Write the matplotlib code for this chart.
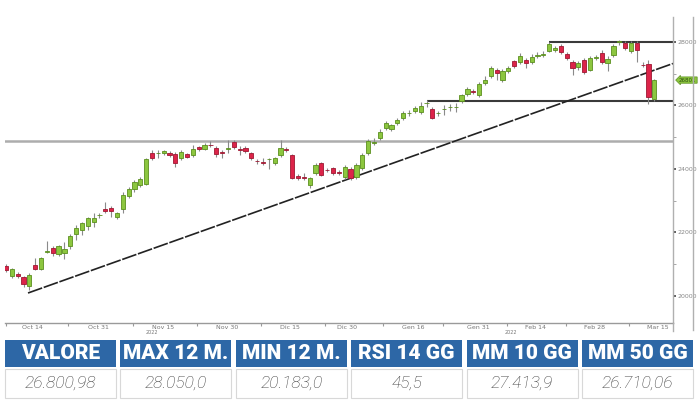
import matplotlib
matplotlib.use('Agg')
import matplotlib.pyplot as plt
import numpy as np
from matplotlib.lines import Line2D
from matplotlib.patches import Rectangle
import matplotlib.transforms as mtransforms

# ---------------- data ----------------
opens = [20944, 20629, 20692, 20597, 20314, 20976, 20850, 21385, 21511, 21322,
         21353, 21574, 21952, 22078, 22204, 22330, 22535, 22739, 22771, 22487,
         22739, 23149, 23369, 23495, 23527, 24503, 24488, 24503, 24503, 24472,
         24346, 24472, 24440, 24692, 24629, 24755, 24661, 24535, 24645, 24850,
         24629, 24661, 24503, 24251, 24220, 24299, 24188, 24440, 24629, 24440,
         23779, 23747, 23495, 23873, 24188, 23968, 24031, 23905, 23747, 23999,
         23747, 24031, 24503, 24834, 24976, 25291, 25259, 25448, 25606, 25748,
         25826, 25795, 26063, 25889, 25748, 25874, 25937, 25937, 26141, 26362,
         26456, 26330, 26708, 26929, 27118, 26803, 27086, 27401, 27370, 27433,
         27370, 27575, 27606, 27716, 27748, 27874, 27622, 27370, 27212, 27433,
         27118, 27512, 27653, 27338, 27590, 28015, 27968, 27716, 27968, 27291,
         27307, 26204]
closes = [20818, 20850, 20629, 20377, 20660, 20850, 21196, 21416, 21353, 21574,
          21479, 21889, 22141, 22298, 22456, 22456, 22550, 22676, 22676, 22613,
          23181, 23369, 23590, 23684, 24314, 24346, 24503, 24566, 24440, 24188,
          24535, 24377, 24629, 24629, 24755, 24740, 24472, 24503, 24661, 24692,
          24613, 24566, 24346, 24236, 24204, 24314, 24346, 24661, 24598, 23716,
          23716, 23716, 23716, 24125, 23810, 23953, 23873, 23873, 24062, 23716,
          24125, 24440, 24881, 24850, 25165, 25448, 25385, 25543, 25763, 25763,
          25921, 25984, 26078, 25606, 25763, 25889, 25952, 25952, 26330, 26519,
          26425, 26677, 26803, 27181, 27023, 27086, 27181, 27244, 27559, 27338,
          27527, 27590, 27622, 27937, 27811, 27685, 27496, 27181, 27338, 27055,
          27496, 27527, 27370, 27464, 27874, 28031, 27811, 27968, 27748, 27275,
          26267, 26801]
highs = [21007, 20881, 20755, 20629, 20723, 21196, 21227, 21731, 21574, 21605,
         21692, 21952, 22235, 22330, 22487, 22613, 22613, 22960, 22834, 22645,
         23275, 23432, 23653, 23747, 24346, 24598, 24598, 24598, 24566, 24535,
         24598, 24503, 24755, 24724, 24818, 24881, 24724, 24598, 24913, 24913,
         24724, 24724, 24535, 24314, 24346, 24346, 24377, 24913, 24692, 24472,
         23842, 23873, 23747, 24188, 24220, 24031, 24062, 23968, 24125, 24062,
         24188, 24503, 24944, 24976, 25259, 25511, 25417, 25606, 25826, 25858,
         25984, 26110, 26173, 25952, 25826, 26015, 26047, 26078, 26362, 26582,
         26519, 26740, 26929, 27244, 27181, 27149, 27244, 27433, 27653, 27496,
         27622, 27685, 27716, 28000, 27874, 27937, 27685, 27433, 27401, 27496,
         27559, 27590, 27748, 27559, 27937, 28050, 28031, 28031, 28031, 27370,
         27433, 26834]
lows = [20755, 20566, 20566, 20283, 20183, 20818, 20818, 21353, 21259, 21259,
        21164, 21479, 21763, 21920, 22078, 22172, 22456, 22613, 22487, 22424,
        22613, 23086, 23275, 23432, 23495, 24283, 24346, 24440, 24377, 24062,
        24283, 24346, 24377, 24566, 24598, 24692, 24377, 24346, 24503, 24629,
        24440, 24503, 24283, 24157, 24125, 23999, 24125, 24377, 24535, 23684,
        23653, 23653, 23401, 23810, 23779, 23905, 23810, 23810, 23684, 23653,
        23684, 23968, 24440, 24755, 24913, 25228, 25196, 25385, 25543, 25669,
        25763, 25732, 25952, 25574, 25669, 25700, 25826, 25795, 26078, 26299,
        26362, 26267, 26645, 26866, 26803, 26740, 27023, 27181, 27307, 27181,
        27307, 27496, 27527, 27685, 27685, 27622, 27433, 26960, 27118, 26992,
        27086, 27433, 27307, 27086, 27527, 27905, 27748, 27653, 27370, 27212,
        26047, 26141]

# reference levels
support_level = 24882       # long grey horizontal
top_level = 28000           # resistance line
mid_level = 26157           # support line
top_start, mid_start = 93, 72
trend_start = (3.77, 20093)
trend_end_price = 27323
last_price = 26801

x_labels = ["Oct 14", "Oct 31", "Nov 15", "Nov 30", "Dic 15", "Dic 30",
            "Gen 16", "Gen 31", "Feb 14", "Feb 28", "Mar 15"]
x_label_pos = [4.6, 15.8, 26.9, 37.8, 48.6, 58.4, 69.7, 80.8, 90.6, 100.7, 111.6]
x_tick_pos = [0, 10.6, 21.7, 32.7, 43.7, 54.6, 64.5, 74.8, 85.8, 95.9, 106.7]
y_major = [20000, 22000, 24000, 26000, 28000]
y_minor = [21000, 23000, 25000, 27000]

headers = ["VALORE", "MAX 12 M.", "MIN 12 M.", "RSI 14 GG", "MM 10 GG", "MM 50 GG"]
values = ["26.800,98", "28.050,0", "20.183,0", "45,5", "27.413,9", "26.710,06"]

# ---------------- figure ----------------
W, H = 700, 400
fig = plt.figure(figsize=(7, 4), dpi=100)
fig.patch.set_facecolor('white')
ax = fig.add_axes([5 / W, 77 / H, 668 / W, 306 / H])
ax.set_facecolor('white')

opens_a = np.array(opens, float)
closes_a = np.array(closes, float)
idx = np.arange(len(opens_a))
up = closes_a >= opens_a

GREEN, GREEN_E = '#8cc63f', '#5b8f1f'
RED, RED_E = '#dc2449', '#9e1832'

xmin, xmax = -0.17, 114.2
ax.set_xlim(xmin, xmax)
ax.set_ylim(19148, 28788)

# reference lines
ax.axhline(support_level, color='#adadad', lw=1.8, zorder=1)
ax.hlines(top_level, top_start, xmax, color='#3a3a3a', lw=1.5, zorder=1)
ax.hlines(mid_level, mid_start, xmax, color='#3a3a3a', lw=1.5, zorder=1)
ax.plot([trend_start[0], xmax], [trend_start[1], trend_end_price],
        color='#222222', lw=1.2, linestyle=(0, (9, 1.0)), zorder=1)

# wicks
ax.vlines(idx, lows, highs, color='#8a8a8a', lw=0.8, zorder=2)
# bodies
body_h = closes_a - opens_a
body_h = np.where(np.abs(body_h) < 15, np.sign(body_h + 1e-9) * 15, body_h)
ax.bar(idx[up], body_h[up], bottom=opens_a[up], width=0.72,
       color=GREEN, edgecolor=GREEN_E, linewidth=0.6, zorder=3)
ax.bar(idx[~up], body_h[~up], bottom=opens_a[~up], width=0.72,
       color=RED, edgecolor=RED_E, linewidth=0.6, zorder=3)

# spines
for s in ['top', 'left']:
    ax.spines[s].set_visible(False)
ax.spines['bottom'].set_color('#9a9a9a')
ax.spines['bottom'].set_linewidth(1.0)
ax.spines['right'].set_color('#b0b0b0')
ax.spines['right'].set_linewidth(1.0)

# y axis on right
ax.yaxis.tick_right()
ax.set_yticks(y_major)
ax.set_yticklabels([str(v) for v in y_major])
ax.set_yticks(y_minor, minor=True)
ax.tick_params(axis='y', which='major', length=2.5, width=1.2, color='#444',
               labelsize=4.5, labelcolor='#888', pad=1)
ax.tick_params(axis='y', which='minor', length=2, width=0.6, color='#999')

# x axis
ax.set_xticks(x_tick_pos)
ax.set_xticklabels([''] * len(x_tick_pos))
ax.set_xticks(x_label_pos, minor=True)
ax.set_xticklabels(x_labels, minor=True)
ax.tick_params(axis='x', which='major', length=2.5, width=0.8, color='#999')
ax.tick_params(axis='x', which='minor', length=0, labelsize=4.5,
               labelcolor='#777', pad=1.5)

# last price tag
trans = mtransforms.blended_transform_factory(ax.transAxes, ax.transData)
ax.text(1.009, last_price, f"{last_price}", transform=trans, fontsize=4.0,
        color='#2d4d10', ha='left', va='center', clip_on=False, zorder=5,
        bbox=dict(boxstyle='larrow,pad=0.12', fc=GREEN, ec=GREEN_E, lw=0.5))

# outer frame line on the right and spine extension
fig.add_artist(Line2D([693 / W, 693 / W], [(H - 330) / H, (H - 17) / H],
                      color='#b0b0b0', lw=1.0))
fig.add_artist(Line2D([673 / W, 673 / W], [(H - 331) / H, (H - 323) / H],
                      color='#b0b0b0', lw=1.0))

# year markers
fig.text(152 / W, (H - 333) / H, "2022", fontsize=3.5, color='#777',
         ha='center', va='center')
fig.text(511 / W, (H - 333) / H, "2022", fontsize=3.5, color='#777',
         ha='center', va='center')

# ---------------- table ----------------
BLUE = '#2d67a6'
cell_w = 111
for i, (hd, val) in enumerate(zip(headers, values)):
    left = 5 + 115.4 * i
    fig.add_artist(Rectangle((left / W, (H - 367) / H), cell_w / W, 27 / H,
                             transform=fig.transFigure, facecolor=BLUE,
                             edgecolor='none'))
    fig.add_artist(Rectangle((left / W, (H - 398) / H), cell_w / W, 29 / H,
                             transform=fig.transFigure, facecolor='white',
                             edgecolor='#d8d8d8', lw=0.8))
    fig.text((left + cell_w / 2) / W, (H - 353.5) / H, hd, color='white',
             fontsize=15, fontweight='black', family=['Roboto', 'DejaVu Sans'],
             ha='center', va='center')
    fig.text((left + cell_w / 2) / W, (H - 383) / H, val, color='#3a3a3a',
             fontsize=12.5, style='italic', fontweight='light',
             family=['Roboto', 'DejaVu Sans'], ha='center', va='center')

fig.savefig('out.png', dpi=100, facecolor='white')
